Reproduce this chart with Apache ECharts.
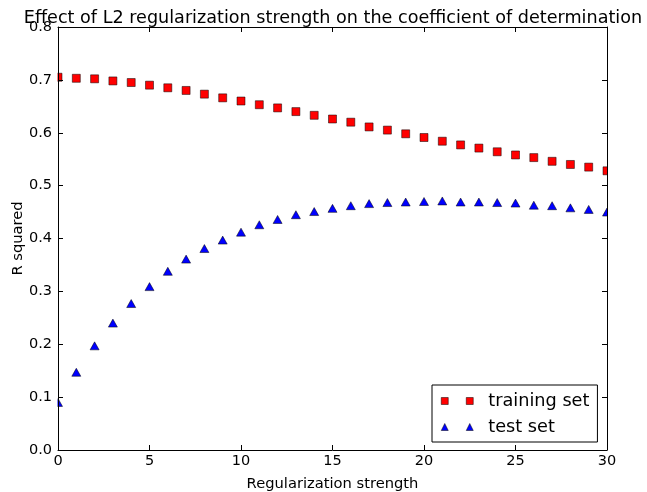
<!DOCTYPE html>
<html>
<head>
<meta charset="utf-8">
<script src="https://cdn.jsdelivr.net/npm/echarts@6/dist/echarts.min.js"></script>
<style>html,body{margin:0;padding:0;background:#fff;}#c{width:647px;height:492px;}</style>
</head>
<body>
<div id="c"></div>
<script>
const strengths = [0,1,2,3,4,5,6,7,8,9,10,11,12,13,14,15,16,17,18,19,20,21,22,23,24,25,26,27,28,29,30];
const trainingR2 = [0.705,0.703,0.702,0.698,0.695,0.690,0.685,0.680,0.673,0.666,0.660,0.653,0.647,0.640,0.633,0.626,0.620,0.611,0.605,0.598,0.591,0.584,0.577,0.571,0.564,0.558,0.553,0.546,0.540,0.535,0.528];
const testR2 = [0.090,0.147,0.197,0.240,0.277,0.309,0.338,0.361,0.381,0.397,0.412,0.426,0.436,0.445,0.451,0.457,0.462,0.466,0.468,0.469,0.470,0.471,0.469,0.469,0.468,0.467,0.463,0.462,0.458,0.455,0.450];
const xTicks = [0,5,10,15,20,25,30];
const yTicks = [0.0,0.1,0.2,0.3,0.4,0.5,0.6,0.7,0.8];

const FONT = 'DejaVu Sans';
const G = {left: 58, right: 40, top: 27, bottom: 42};
const W = 647, H = 492;

const chart = echarts.init(document.getElementById('c'), null, {renderer: 'canvas'});
const axisCommon = {
  axisLine: {show: true, onZero: false, lineStyle: {color: '#000', width: 1}},
  axisTick: {show: true, inside: true, length: 5, lineStyle: {color: '#000', width: 1}},
  splitLine: {show: false},
  z: 10
};
chart.setOption({
  animation: false,
  backgroundColor: '#fff',
  title: {
    text: 'Effect of L2 regularization strength on the coefficient of determination',
    left: 328, textAlign: 'center', top: 4, z: 10,
    textStyle: {fontFamily: FONT, fontSize: 17.6, fontWeight: 'normal', color: '#000'}
  },
  legend: {
    orient: 'vertical', left: 432, top: 385, z: 12,
    padding: [7, 8, 6, 9],
    itemGap: 8,
    itemWidth: 32, itemHeight: 7,
    backgroundColor: '#fff', borderColor: '#000', borderWidth: 1,
    textStyle: {fontFamily: FONT, fontSize: 17.7, color: '#000', padding: [0, 0, 0, 10]},
    data: [
      {name: 'training set', icon: 'path://M0,0h7v7h-7z M25,0h7v7h-7z', itemStyle: {color: '#ff0000', borderColor: '#000', borderWidth: 0.5}},
      {name: 'test set', icon: 'path://M3.5,0L7,7L0,7Z M28.5,0L32,7L25,7Z', itemStyle: {color: '#0000ff', borderColor: '#000', borderWidth: 0.5}}
    ]
  },
  grid: {left: G.left, right: G.right, top: G.top, bottom: G.bottom, show: false, outerBoundsMode: 'none', containLabel: false},
  xAxis: [
    Object.assign({}, axisCommon, {
      type: 'value', min: 0, max: 30, interval: 5, position: 'bottom',
      name: 'Regularization strength', nameLocation: 'middle', nameGap: 27, nameMoveOverlap: false,
      nameTextStyle: {fontFamily: FONT, fontSize: 14.7, color: '#000'},
      axisLabel: {fontFamily: FONT, fontSize: 14.5, color: '#000', margin: 4,
        formatter: v => xTicks.includes(v) ? String(v) : ''}
    }),
    Object.assign({}, axisCommon, {
      type: 'value', min: 0, max: 30, interval: 5, position: 'top',
      axisLabel: {show: false}
    })
  ],
  yAxis: [
    Object.assign({}, axisCommon, {
      type: 'value', min: 0, max: 0.8, interval: 0.1, position: 'left',
      name: 'R squared', nameLocation: 'middle', nameGap: 32, nameMoveOverlap: false,
      nameTextStyle: {fontFamily: FONT, fontSize: 14.7, color: '#000'},
      axisLabel: {fontFamily: FONT, fontSize: 14.5, color: '#000', margin: 6,
        formatter: v => { const t = yTicks.find(y => Math.abs(y - v) < 1e-9); return t === undefined ? '' : t.toFixed(1); }}
    }),
    Object.assign({}, axisCommon, {
      type: 'value', min: 0, max: 0.8, interval: 0.1, position: 'right',
      axisLabel: {show: false}
    })
  ],
  graphic: [
    {type: 'rect', z: 5, silent: true, shape: {x: 0, y: 0, width: G.left - 0.5, height: H}, style: {fill: '#fff'}},
    {type: 'rect', z: 5, silent: true, shape: {x: W - G.right + 0.5, y: 0, width: G.right, height: H}, style: {fill: '#fff'}},
    {type: 'rect', z: 5, silent: true, shape: {x: 0, y: 0, width: W, height: G.top - 0.5}, style: {fill: '#fff'}},
    {type: 'rect', z: 5, silent: true, shape: {x: 0, y: H - G.bottom + 0.5, width: W, height: G.bottom}, style: {fill: '#fff'}}
  ],
  series: [
    {
      name: 'training set', type: 'scatter', symbol: 'rect', symbolSize: 8, z: 2,
      itemStyle: {color: '#ff0000', borderColor: '#000', borderWidth: 0.5, opacity: 1},
      data: strengths.map((s, i) => [s, trainingR2[i]])
    },
    {
      name: 'test set', type: 'scatter', symbol: 'triangle', symbolSize: [9, 8], z: 2,
      itemStyle: {color: '#0000ff', borderColor: '#000', borderWidth: 0.5, opacity: 1},
      data: strengths.map((s, i) => [s, testR2[i]])
    }
  ]
});
</script>
</body>
</html>
